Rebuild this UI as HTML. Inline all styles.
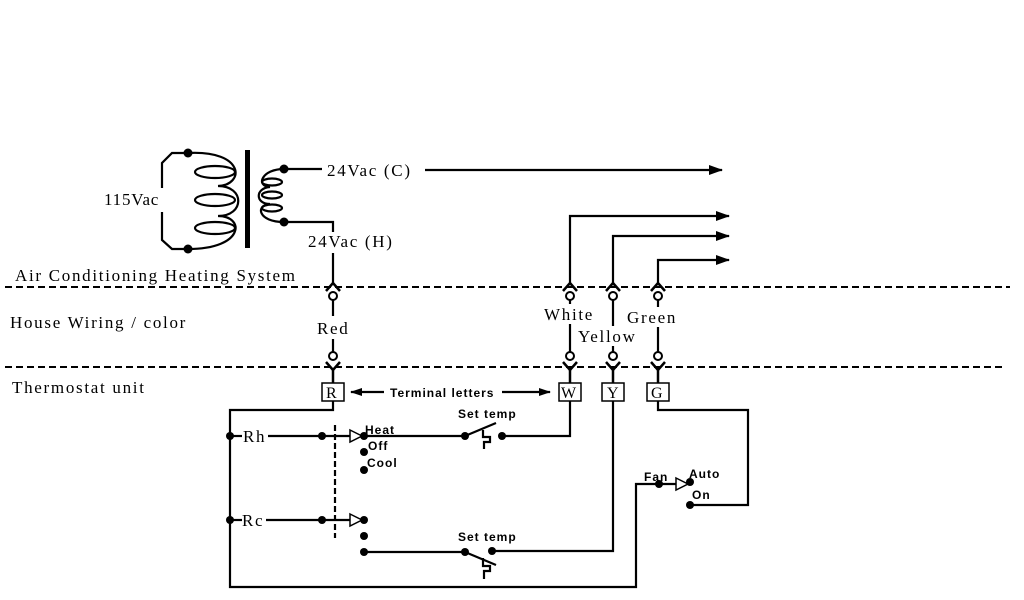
<!DOCTYPE html>
<html><head><style>
html,body{margin:0;padding:0;background:#fff;width:1024px;height:600px;overflow:hidden}
svg{display:block}
.s{font-family:"Liberation Serif",serif;fill:#000;letter-spacing:1.7px}
.b{font-family:"Liberation Sans",sans-serif;font-weight:bold;fill:#000;letter-spacing:1px}
</style></head><body>
<svg width="1024" height="600" viewBox="0 0 1024 600" xmlns="http://www.w3.org/2000/svg">
<defs>
<marker id="ah" markerWidth="14" markerHeight="10" refX="13" refY="5" orient="auto" markerUnits="userSpaceOnUse">
<path d="M0,0 L14,5 L0,10 Z" fill="#000"/></marker>
<marker id="ah2" markerWidth="12" markerHeight="8" refX="11" refY="4" orient="auto-start-reverse" markerUnits="userSpaceOnUse">
<path d="M0,0 L12,4 L0,8 Z" fill="#000"/></marker>
<g id="col" stroke="#000" stroke-width="2.5" fill="none">
<polyline points="-7,291 0,283 7,291"/>
<circle cx="0" cy="296" r="4" fill="#fff" stroke-width="2"/>
<circle cx="0" cy="356" r="4" fill="#fff" stroke-width="2"/>
<polyline points="-7,362 0,370 7,362"/>
<line x1="0" y1="370" x2="0" y2="383"/>
</g>
</defs>
<g stroke="#000" stroke-width="2.2" fill="none">
<path d="M188,153 L172,153 L162,163 L162,188 M162,212 L162,240 L172,249 L188,249"/>
<path d="M188,153 C245,150 245,185 218,186 C245,186 245,216 218,216 C245,216 245,249 188,249"/>
<ellipse cx="215" cy="172" rx="20" ry="6"/>
<ellipse cx="215" cy="200" rx="20" ry="6"/>
<ellipse cx="215" cy="228" rx="20" ry="6"/>
<path d="M284,169 C262,169 255,186 270,187 C255,188 255,204 270,204 C255,205 258,222 284,222"/>
<ellipse cx="272" cy="182" rx="10" ry="3.5"/>
<ellipse cx="272" cy="195" rx="10" ry="3.5"/>
<ellipse cx="272" cy="208" rx="10" ry="3.5"/>
<line x1="284" y1="169" x2="322" y2="169"/>
<line x1="425" y1="170" x2="722" y2="170" marker-end="url(#ah)"/>
<polyline points="284,222 333,222 333,232"/>
<line x1="333" y1="253" x2="333" y2="283"/>
<polyline points="570,283 570,216 729,216" marker-end="url(#ah)"/>
<polyline points="613,283 613,236 729,236" marker-end="url(#ah)"/>
<polyline points="658,283 658,260 729,260" marker-end="url(#ah)"/>
<line x1="5" y1="287" x2="1010" y2="287" stroke-dasharray="7,4" stroke-width="2"/>
<line x1="5" y1="367" x2="1003" y2="367" stroke-dasharray="7,4" stroke-width="2"/>
</g>
<rect x="245" y="150" width="5" height="98" fill="#000"/>
<g fill="#000"><circle cx="188" cy="153" r="4.5"/><circle cx="188" cy="249" r="4.5"/><circle cx="284" cy="169" r="4.5"/><circle cx="284" cy="222" r="4.5"/></g>
<use href="#col" x="333"/><use href="#col" x="570"/><use href="#col" x="613"/><use href="#col" x="658"/>
<g stroke="#000" stroke-width="2.2" fill="none">
<line x1="333" y1="300" x2="333" y2="316"/><line x1="333" y1="339" x2="333" y2="352"/>
<line x1="570" y1="300" x2="570" y2="304"/><line x1="570" y1="324" x2="570" y2="352"/>
<line x1="613" y1="300" x2="613" y2="326"/><line x1="613" y1="346" x2="613" y2="352"/>
<line x1="658" y1="300" x2="658" y2="307"/><line x1="658" y1="327" x2="658" y2="352"/>
<rect x="322" y="383" width="22" height="18" stroke-width="1.5"/>
<rect x="559" y="383" width="22" height="18" stroke-width="1.5"/>
<rect x="602" y="383" width="22" height="18" stroke-width="1.5"/>
<rect x="647" y="383" width="22" height="18" stroke-width="1.5"/>
<line x1="384" y1="392" x2="351" y2="392" marker-end="url(#ah2)"/>
<line x1="502" y1="392" x2="550" y2="392" marker-end="url(#ah2)"/>
<polyline points="333,401 333,410 230,410 230,587 636,587 636,484 676,484"/>
<polyline points="690,505 748,505 748,410 658,410 658,401"/>
<polyline points="570,401 570,436 503,436"/>
<polyline points="613,401 613,551 492,551"/>
<line x1="230" y1="436" x2="242" y2="436"/><line x1="268" y1="436" x2="350" y2="436"/>
<line x1="230" y1="520" x2="242" y2="520"/><line x1="266" y1="520" x2="350" y2="520"/>
<line x1="364" y1="436" x2="463" y2="436"/>
<line x1="364" y1="552" x2="463" y2="552"/>
<line x1="335" y1="425" x2="335" y2="538" stroke-dasharray="6,3"/>
<path d="M350,430 L362,436 L350,442 Z" fill="#fff" stroke-width="1.5"/>
<path d="M350,514 L362,520 L350,526 Z" fill="#fff" stroke-width="1.5"/>
<path d="M676,478 L688,484 L676,490 Z" fill="#fff" stroke-width="1.5"/>
<line x1="465" y1="436" x2="496" y2="423"/>
<polyline points="483,430 483,437 490,437 490,442 484,442 484,449"/>
<line x1="465" y1="552" x2="496" y2="565"/>
<polyline points="483,558 483,566 490,566 490,571 484,571 484,579"/>
</g>
<g fill="#000">
<circle cx="230" cy="436" r="4"/><circle cx="230" cy="520" r="4"/>
<circle cx="322" cy="436" r="4"/><circle cx="322" cy="520" r="4"/>
<circle cx="364" cy="436" r="4"/><circle cx="364" cy="452" r="4"/><circle cx="364" cy="470" r="4"/>
<circle cx="364" cy="520" r="4"/><circle cx="364" cy="536" r="4"/><circle cx="364" cy="552" r="4"/>
<circle cx="465" cy="436" r="4"/><circle cx="502" cy="436" r="4"/>
<circle cx="465" cy="552" r="4"/><circle cx="492" cy="551" r="4"/>
<circle cx="659" cy="484" r="4"/><circle cx="690" cy="482" r="4"/><circle cx="690" cy="505" r="4"/>
</g>
<g class="s" font-size="17">
<text x="104" y="205" style="letter-spacing:0.8px">115Vac</text>
<text x="327" y="176">24Vac (C)</text>
<text x="308" y="247">24Vac (H)</text>
<text x="15" y="281">Air Conditioning Heating System</text>
<text x="10" y="328">House Wiring / color</text>
<text x="12" y="393">Thermostat unit</text>
<text x="317" y="334">Red</text>
<text x="544" y="320">White</text>
<text x="578" y="342">Yellow</text>
<text x="627" y="323">Green</text>
<text x="243" y="442">Rh</text>
<text x="242" y="526">Rc</text>
</g>
<g class="s" font-size="16" style="letter-spacing:0">
<text x="326" y="398">R</text><text x="561" y="398">W</text><text x="607" y="398">Y</text><text x="651" y="398">G</text>
</g>
<g class="b" font-size="12">
<text x="390" y="397">Terminal letters</text>
<text x="458" y="418">Set temp</text>
<text x="458" y="541">Set temp</text>
<text x="365" y="434">Heat</text>
<text x="368" y="450">Off</text>
<text x="367" y="467">Cool</text>
<text x="644" y="481">Fan</text>
<text x="689" y="478">Auto</text>
<text x="692" y="499">On</text>
</g>
</svg>
</body></html>
